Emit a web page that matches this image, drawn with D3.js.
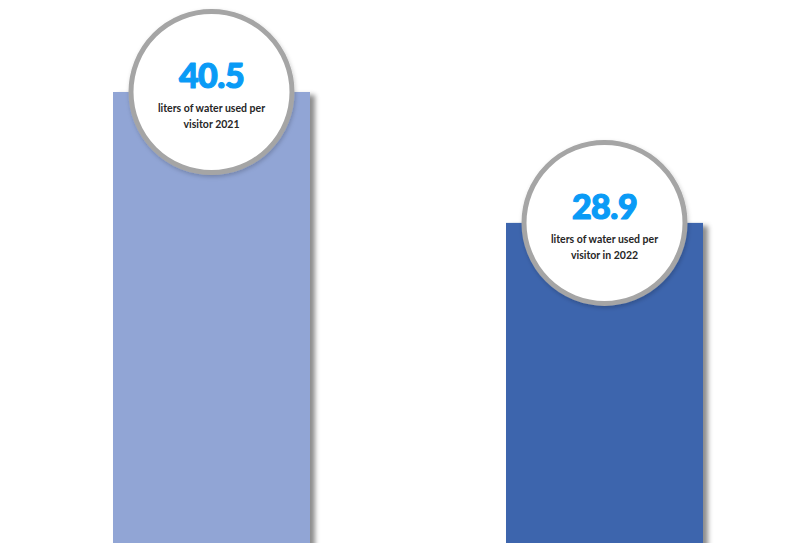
<!DOCTYPE html>
<html><head><meta charset="utf-8">
<script src="https://cdn.jsdelivr.net/npm/d3@7"></script>
<style>html,body{margin:0;padding:0;background:#fff;overflow:hidden}</style>
</head><body>
<script>
const categories = ["2021", "2022"];
const values = [40.5, 28.9];
const valueLabels = ["40.5", "28.9"];
const captions = [["liters of water used per", "visitor 2021"], ["liters of water used per", "visitor in 2022"]];
const colors = ["#91A5D5", "#3C65AD"];

const W = 811, H = 543;
const svg = d3.select("body").append("svg").attr("width", W).attr("height", H);
const defs = svg.append("defs");
const f = defs.append("filter").attr("id", "sh").attr("x", "-20%").attr("y", "-20%").attr("width", "140%").attr("height", "140%");
f.append("feDropShadow").attr("dx", 5).attr("dy", 3).attr("stdDeviation", 2.5).attr("flood-color", "#000").attr("flood-opacity", 0.45);
const f2 = defs.append("filter").attr("id", "csh").attr("x", "-20%").attr("y", "-20%").attr("width", "140%").attr("height", "140%");
f2.append("feDropShadow").attr("dx", 1).attr("dy", 2).attr("stdDeviation", 2).attr("flood-color", "#000").attr("flood-opacity", 0.2);

const xs = d3.scalePoint().domain(categories).range([211.5, 604.5]);
const bw = 197;
const y = d3.scaleLinear().domain([0, 40.5]).range([549, 92]);

const g = svg.append("g");
g.selectAll("rect.bar").data(categories).enter().append("rect")
  .attr("class", "bar")
  .attr("x", d => xs(d) - bw / 2)
  .attr("width", bw)
  .attr("y", (d, i) => y(values[i]))
  .attr("height", (d, i) => y(0) - y(values[i]) + 20)
  .attr("fill", (d, i) => colors[i])
  .attr("filter", "url(#sh)");

const r = 80.5;
const badges = g.selectAll("g.badge").data(categories).enter().append("g")
  .attr("class", "badge")
  .attr("transform", (d, i) => `translate(${xs(d)},${y(values[i])})`);
badges.append("circle").attr("r", r).attr("fill", "#fff").attr("stroke", "#A5A5A5").attr("stroke-width", 5).attr("filter", "url(#csh)");
badges.append("text").attr("text-anchor", "middle").attr("y", -4)
  .attr("font-family", "Lato").attr("font-weight", 900).attr("font-size", 34)
  .attr("letter-spacing", -0.5)
  .attr("stroke", "#0A9BF6").attr("stroke-width", 1.2).attr("stroke-linejoin", "round")
  .attr("fill", "#0A9BF6").text((d, i) => valueLabels[i]);
badges.each(function (d, i) {
  const t = d3.select(this).append("text").attr("text-anchor", "middle")
    .attr("font-family", "Lato").attr("font-weight", 700).attr("font-size", 10.5).attr("fill", "#262626");
  captions[i].forEach((line, k) => t.append("tspan").attr("x", 0).attr("y", 20 + k * 16).text(line));
});
</script>
</body></html>
